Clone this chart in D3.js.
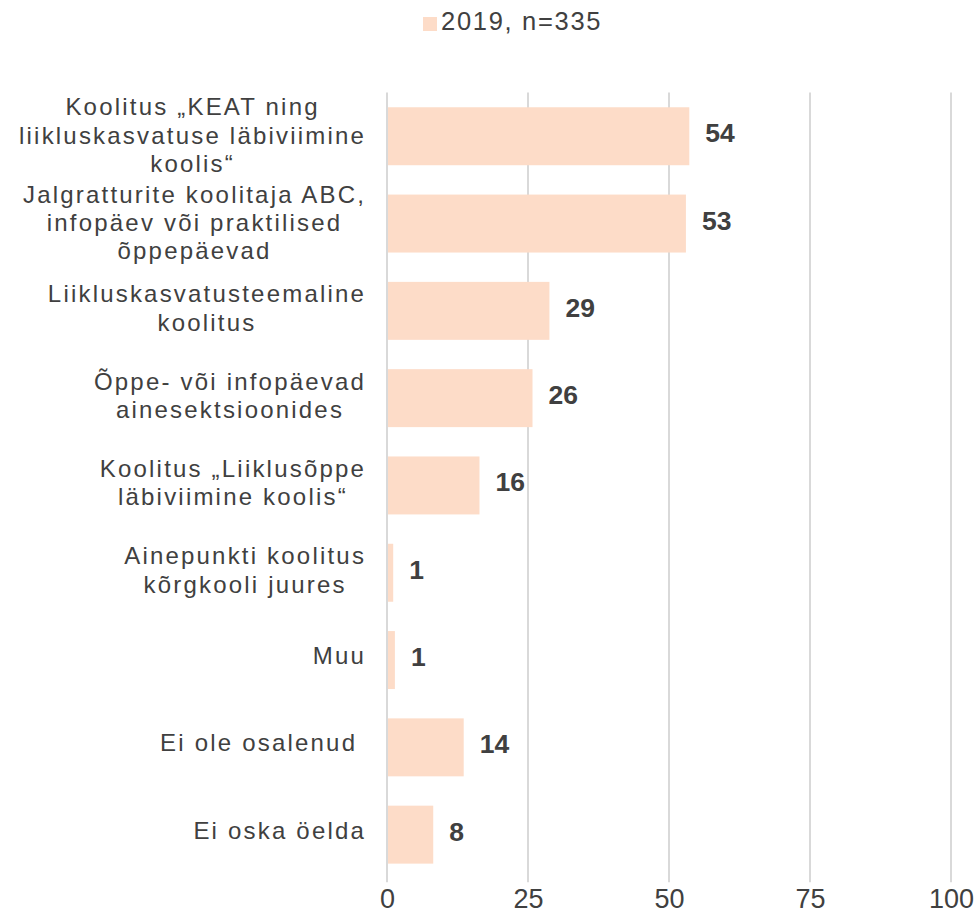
<!DOCTYPE html>
<html>
<head>
<meta charset="utf-8">
<script src="https://cdn.jsdelivr.net/npm/d3@7"></script>
<style>
  body { margin: 0; background: #fff; }
  text { font-family: "Liberation Sans", Arial, sans-serif; fill: #404040; }
</style>
</head>
<body>
<div id="chart"></div>
<script>
// categories (each entry split into the lines shown on the chart)
var categories = [
  ["Koolitus \u201eKEAT ning", "liikluskasvatuse läbiviimine", "koolis\u201c"],
  ["Jalgratturite koolitaja ABC,", "infopäev või praktilised", "õppepäevad"],
  ["Liikluskasvatusteemaline", "koolitus"],
  ["Õppe- või infopäevad", "ainesektsioonides"],
  ["Koolitus \u201eLiiklusõppe", "läbiviimine koolis\u201c"],
  ["Ainepunkti koolitus", "kõrgkooli juures"],
  ["Muu"],
  ["Ei ole osalenud "],
  ["Ei oska öelda"]
];
var values2019 = [53.6, 53.0, 28.8, 25.8, 16.4, 1.1, 1.4, 13.6, 8.2];
var xTicks = [0, 25, 50, 75, 100];
var seriesName = "2019, n=335";

var totalWidth = 976, totalHeight = 916;
var margin = {top: 92.6, left: 387, right: 25, bottom: 37.7};
var barColor = "#fddcc8", gridColor = "#d9d9d9";
var fontSize = 24, spacing = 2.2, lineH = 28.3;

var svg = d3.select("#chart").append("svg")
    .attr("width", totalWidth)
    .attr("height", totalHeight);

var x_scale = d3.scaleLinear()
    .domain([0, 100])
    .range([margin.left, totalWidth - margin.right]);
var y_scale = d3.scaleBand()
    .domain(d3.range(categories.length))
    .range([margin.top, totalHeight - margin.bottom])
    .paddingInner(0.336)
    .paddingOuter(0.168);

// gridlines
svg.append("g")
  .selectAll("line")
  .data(xTicks)
  .enter()
  .append("line")
    .attr("x1", function(d) { return x_scale(d); })
    .attr("x2", function(d) { return x_scale(d); })
    .attr("y1", margin.top)
    .attr("y2", totalHeight - margin.bottom + 4)
    .attr("stroke", gridColor)
    .attr("stroke-width", 2);

// x axis labels
var xAxis = d3.axisBottom(x_scale).tickValues(xTicks).tickSize(0).tickPadding(0);
var gx = svg.append("g")
    .attr("transform", "translate(0," + (totalHeight - margin.bottom) + ")")
    .call(xAxis);
gx.select(".domain").remove();
gx.selectAll("text")
    .attr("dy", null)
    .attr("y", 30)
    .style("font-size", "27px")
    .attr("fill", "#404040")
    .attr("font-family", null);

// bars
svg.append("g")
  .selectAll("rect")
  .data(values2019)
  .enter()
  .append("rect")
    .attr("x", x_scale(0) + 1)
    .attr("y", function(d, i) { return y_scale(i); })
    .attr("width", function(d) { return x_scale(d) - x_scale(0) - 1; })
    .attr("height", y_scale.bandwidth())
    .attr("fill", barColor);

// value labels
svg.append("g")
  .selectAll("text")
  .data(values2019)
  .enter()
  .append("text")
    .attr("x", function(d) { return x_scale(d) + 16; })
    .attr("y", function(d, i) { return y_scale(i) + y_scale.bandwidth() / 2 + 6; })
    .style("font-size", "26.5px")
    .style("font-weight", "bold")
    .text(function(d) { return d3.format(".0f")(d); });

// category labels: lines centred in a block that is right-aligned
var labelRight = 365;
var labels = svg.append("g")
  .selectAll("text")
  .data(categories)
  .enter()
  .append("text")
    .style("font-size", fontSize + "px")
    .style("letter-spacing", spacing + "px")
    .style("white-space", "pre")
    .attr("text-anchor", "middle");

labels.each(function(lines, i) {
  var t = d3.select(this);
  var cy = y_scale(i) + y_scale.bandwidth() / 2;
  var spans = lines.map(function(l, j) {
    return t.append("tspan")
      .attr("y", cy + 4 + (lines.length - 1) * 1.75 + (j - (lines.length - 1) / 2) * lineH)
      .text(l);
  });
  var w = d3.max(spans, function(s) { return s.node().getComputedTextLength(); });
  spans.forEach(function(s) { s.attr("x", labelRight - w / 2 + spacing / 2); });
});

// legend
var legend = svg.append("g");
legend.append("rect")
    .attr("x", 423).attr("y", 17)
    .attr("width", 14).attr("height", 14)
    .attr("fill", barColor);
legend.append("text")
    .attr("x", 441).attr("y", 30)
    .style("font-size", "25.5px")
    .style("letter-spacing", "1.7px")
    .text(seriesName);
</script>
</body>
</html>
